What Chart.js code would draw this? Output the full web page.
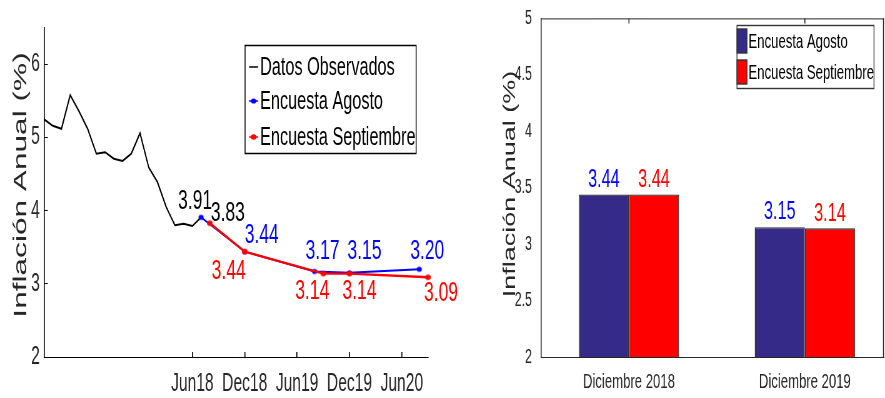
<!DOCTYPE html>
<html>
<head>
<meta charset="utf-8">
<script src="https://cdn.jsdelivr.net/npm/chart.js@4.4.1/dist/chart.umd.min.js"></script>
<style>
    body { margin: 0; background: #fff; }
    #wrap { position: relative; width: 885px; height: 398px; }
    #lineCanvas { position: absolute; left: 0; top: 0; }
    #barCanvas { position: absolute; left: 455px; top: 0; }
</style>
</head>
<body>
<div id="wrap">
    <canvas id="lineCanvas"></canvas>
    <canvas id="barCanvas"></canvas>
</div>
<script>
// The original figure is squeezed horizontally, so both charts are drawn
// K times wider and shrunk back with CSS.
const K = 1.6;
const FONT = "'Liberation Sans', Arial, sans-serif";
const TEXT_COLOR = '#262626';

// Months on the x axis of the left chart (Jan17 .. Sep20)
const meses = [
    'Jan17', 'Feb17', 'Mar17', 'Apr17', 'May17', 'Jun17', 'Jul17', 'Aug17', 'Sep17', 'Oct17', 'Nov17', 'Dec17',
    'Jan18', 'Feb18', 'Mar18', 'Apr18', 'May18', 'Jun18', 'Jul18', 'Aug18', 'Sep18', 'Oct18', 'Nov18', 'Dec18',
    'Jan19', 'Feb19', 'Mar19', 'Apr19', 'May19', 'Jun19', 'Jul19', 'Aug19', 'Sep19', 'Oct19', 'Nov19', 'Dec19',
    'Jan20', 'Feb20', 'Mar20', 'Apr20', 'May20', 'Jun20', 'Jul20', 'Aug20', 'Sep20'
];
const etiquetasEje = ['Jun18', 'Dec18', 'Jun19', 'Dec19', 'Jun20'];

// Observed inflation, Jan17 .. Jul18
const observados = [5.25, 5.16, 5.12, 5.58, 5.36, 5.12, 4.78, 4.80, 4.71, 4.68, 4.78, 5.06,
                    4.59, 4.39, 4.05, 3.80, 3.82, 3.79, 3.91];

// Survey expectations
const mesesAgosto = ['Jul18', 'Dec18', 'Aug19', 'Dec19', 'Aug20'];
const valoresAgosto = [3.91, 3.44, 3.17, 3.15, 3.20];
const mesesSeptiembre = ['Aug18', 'Dec18', 'Sep19', 'Dec19', 'Sep20'];
const valoresSeptiembre = [3.83, 3.44, 3.14, 3.14, 3.09];

// Right chart
const horizontes = ['Diciembre 2018', 'Diciembre 2019'];
const barrasAgosto = [3.44, 3.15];
const barrasSeptiembre = [3.44, 3.14];

// Where each value label sits relative to its point (screen pixels)
const offsetsAgosto = [[-6, -16], [17, -16], [8, -20], [15, -22], [8, -18]];
const offsetsSeptiembre = [[18, -10], [-16, 20], [-11, 18], [10, 18], [13, 16]];

function toPoints(labels, values) {
    return labels.map((m, i) => ({ x: m, y: values[i] }));
}

// Round marker that stays round after the horizontal squeeze
function makeDot(color, r) {
    const c = document.createElement('canvas');
    c.width = Math.ceil(2 * r * K) + 2;
    c.height = Math.ceil(2 * r) + 2;
    const g = c.getContext('2d');
    g.fillStyle = color;
    g.beginPath();
    g.ellipse(c.width / 2, c.height / 2, r * K, r, 0, 0, Math.PI * 2);
    g.fill();
    return c;
}

// Bitmap K times wider than the box it is shown in
function setupCanvas(id, w, h) {
    const canvas = document.getElementById(id);
    canvas.width = Math.round(w * K);
    canvas.height = h;
    canvas.style.width = w + 'px';
    canvas.style.height = h + 'px';
    return canvas;
}

// Draws a rotated y axis title
function drawYTitle(ctx, text, x, y, size, stretch) {
    ctx.save();
    ctx.translate(x * K, y);
    ctx.rotate(-Math.PI / 2);
    ctx.scale(stretch, 1);
    ctx.font = size + 'px ' + FONT;
    ctx.fillStyle = TEXT_COLOR;
    ctx.textAlign = 'center';
    ctx.textBaseline = 'alphabetic';
    ctx.fillText(text, 0, 0);
    ctx.restore();
}

// Value labels, legend and title of the left chart
const lineExtras = {
    id: 'lineExtras',
    afterDatasetsDraw(chart) {
        const ctx = chart.ctx;
        ctx.save();
        ctx.font = '28px ' + FONT;
        ctx.textAlign = 'center';
        ctx.textBaseline = 'middle';
        [[1, offsetsAgosto, '#0000ff'], [2, offsetsSeptiembre, '#ff0000']].forEach(([idx, offs, color]) => {
            const meta = chart.getDatasetMeta(idx);
            const values = chart.data.datasets[idx].data;
            meta.data.forEach((pt, i) => {
                ctx.fillStyle = i === 0 ? '#000' : color;
                ctx.fillText(values[i].y.toFixed(2), pt.x + offs[i][0] * K, pt.y + offs[i][1]);
            });
        });
        ctx.restore();
    },
    afterDraw(chart) {
        const ctx = chart.ctx;
        drawYTitle(ctx, 'Inflación Anual (%)', 26, 185, 29, 1.09);

        // legend box
        ctx.save();
        ctx.fillStyle = '#fff';
        ctx.fillRect(245 * K, 45.5, 171 * K, 108);
        ctx.strokeStyle = '#000';
        ctx.lineWidth = 1.5;
        ctx.strokeRect(245 * K, 45.5, 171 * K, 108);
        ctx.font = '26px ' + FONT;
        ctx.textBaseline = 'middle';
        ctx.textAlign = 'left';
        const rows = [67, 101, 137];
        chart.data.datasets.forEach((ds, i) => {
            const y = rows[i];
            ctx.strokeStyle = ds.borderColor;
            ctx.lineWidth = 1.5;
            ctx.beginPath();
            ctx.moveTo(249 * K, y);
            ctx.lineTo(258 * K, y);
            ctx.stroke();
            if (ds.pointStyle) {
                ctx.drawImage(ds.pointStyle, 253.5 * K - ds.pointStyle.width / 2, y - ds.pointStyle.height / 2);
            }
            ctx.fillStyle = '#000';
            ctx.fillText(ds.label, 260 * K, y + 1);
        });
        ctx.restore();
    }
};

const lineChart = new Chart(setupCanvas('lineCanvas', 462, 398), {
    type: 'line',
    data: {
        labels: meses,
        datasets: [
            {
                label: 'Datos Observados',
                data: observados,
                borderColor: '#000000',
                borderWidth: 2,
                pointRadius: 0,
                order: 2
            },
            {
                label: 'Encuesta Agosto',
                data: toPoints(mesesAgosto, valoresAgosto),
                borderColor: '#0000ff',
                backgroundColor: '#0000ff',
                borderWidth: 2,
                pointStyle: makeDot('#0000ff', 2.6),
                order: 1
            },
            {
                label: 'Encuesta Septiembre',
                data: toPoints(mesesSeptiembre, valoresSeptiembre),
                borderColor: '#ff0000',
                backgroundColor: '#ff0000',
                borderWidth: 2.4,
                pointStyle: makeDot('#ff0000', 2.8),
                order: 0
            }
        ]
    },
    options: {
        responsive: false,
        animation: false,
        devicePixelRatio: 1,
        layout: { padding: { top: 14, right: 34 * K, left: 0, bottom: 0 } },
        plugins: { legend: { display: false }, tooltip: { enabled: false } },
        scales: {
            x: {
                type: 'category',
                offset: false,
                grid: { drawOnChartArea: false, tickLength: -5, color: '#000', lineWidth: 1.6 },
                border: { color: '#000', width: 1 },
                ticks: {
                    autoSkip: false,
                    maxRotation: 0,
                    padding: 17,
                    color: TEXT_COLOR,
                    font: { family: FONT, size: 25 }
                },
                afterBuildTicks: scale => {
                    scale.ticks = scale.ticks.filter(t => etiquetasEje.includes(meses[t.value]));
                },
                afterFit: scale => { scale.height = 41; }
            },
            y: {
                min: 2,
                max: 6.5,
                grid: { drawOnChartArea: false, tickLength: -6, color: '#000' },
                border: { color: '#000', width: 1.6 },
                ticks: {
                    stepSize: 1,
                    includeBounds: false,
                    padding: 12.8,
                    color: TEXT_COLOR,
                    font: { family: FONT, size: 25 }
                },
                afterFit: scale => { scale.width = 44 * K; }
            }
        }
    },
    plugins: [lineExtras]
});

// Bar chart decorations: value labels, frame, legend, title
const barExtras = {
    id: 'barExtras',
    afterDraw(chart) {
        const ctx = chart.ctx;
        const area = chart.chartArea;
        const colors = ['#0000ff', '#ff0000'];
        ctx.save();

        // values above bars
        ctx.font = '26px ' + FONT;
        ctx.textAlign = 'center';
        ctx.textBaseline = 'middle';
        chart.data.datasets.forEach((ds, i) => {
            chart.getDatasetMeta(i).data.forEach((bar, j) => {
                ctx.fillStyle = colors[i];
                ctx.fillText(ds.data[j].y.toFixed(2), bar.x, bar.y - 15);
            });
        });

        // top and right frame with top ticks
        ctx.strokeStyle = TEXT_COLOR;
        ctx.lineWidth = 1;
        ctx.beginPath();
        ctx.moveTo(area.left, area.top + 0.5);
        ctx.lineTo(area.right, area.top + 0.5);
        ctx.stroke();
        ctx.lineWidth = 1.6;
        ctx.beginPath();
        ctx.moveTo(area.right - 0.8, area.top);
        ctx.lineTo(area.right - 0.8, area.bottom);
        const xs = chart.scales.x;
        horizontes.forEach((h, i) => {
            const px = xs.getPixelForValue(i);
            ctx.moveTo(px, area.top);
            ctx.lineTo(px, area.top + 5);
        });
        ctx.stroke();

        // legend
        ctx.fillStyle = '#fff';
        ctx.fillRect(282 * K, 25.5, 137 * K, 63);
        ctx.strokeStyle = '#333';
        ctx.lineWidth = 1.4;
        ctx.strokeRect(282 * K, 25.5, 137 * K, 63);
        ctx.font = '21px ' + FONT;
        ctx.textAlign = 'left';
        const rows = [41, 72];
        chart.data.datasets.forEach((ds, i) => {
            ctx.fillStyle = ds.backgroundColor;
            ctx.fillRect(282 * K, rows[i] - 12, 10 * K, 24);
            ctx.strokeRect(282 * K, rows[i] - 12, 10 * K, 24);
            ctx.fillStyle = '#000';
            ctx.fillText(ds.label, 293.5 * K, rows[i] + 1);
        });
        ctx.restore();

        drawYTitle(ctx, 'Inflación Anual (%)', 60, 184, 27, 1.0);
    }
};

// Bars sit at x = 0, 1; the x range runs a little past the figure edge, as in the original
const barChart = new Chart(setupCanvas('barCanvas', 430, 398), {
    type: 'bar',
    data: {
        datasets: [
            {
                label: 'Encuesta Agosto',
                data: barrasAgosto.map((v, i) => ({ x: i, y: v })),
                backgroundColor: '#352a87',
                borderColor: '#2b2b2b',
                borderWidth: 1.4
            },
            {
                label: 'Encuesta Septiembre',
                data: barrasSeptiembre.map((v, i) => ({ x: i, y: v })),
                backgroundColor: '#ff0000',
                borderColor: '#2b2b2b',
                borderWidth: 1.4
            }
        ]
    },
    options: {
        responsive: false,
        animation: false,
        devicePixelRatio: 1,
        categoryPercentage: 0.57,
        barPercentage: 1,
        layout: { padding: { top: 14, right: 1 * K, left: 0, bottom: 0 } },
        plugins: { legend: { display: false }, tooltip: { enabled: false } },
        scales: {
            x: {
                type: 'linear',
                min: -0.5,
                max: 1.45,
                offset: false,
                grid: { display: false, offset: false },
                border: { color: TEXT_COLOR, width: 1 },
                ticks: {
                    stepSize: 1,
                    includeBounds: false,
                    padding: 5,
                    maxRotation: 0,
                    color: TEXT_COLOR,
                    font: { family: FONT, size: 21 },
                    callback: v => horizontes[v] || ''
                },
                afterBuildTicks: scale => {
                    scale.ticks = scale.ticks.filter(t => Number.isInteger(t.value) && horizontes[t.value]);
                },
                afterFit: scale => { scale.height = 41; }
            },
            y: {
                min: 2,
                max: 5,
                grid: { display: false },
                border: { color: TEXT_COLOR, width: 1.6 },
                ticks: {
                    stepSize: 0.5,
                    padding: 6.4,
                    color: TEXT_COLOR,
                    font: { family: FONT, size: 20 },
                    callback: v => String(v)
                },
                afterFit: scale => { scale.width = 86 * K; }
            }
        }
    },
    plugins: [barExtras]
});
</script>
</body>
</html>
